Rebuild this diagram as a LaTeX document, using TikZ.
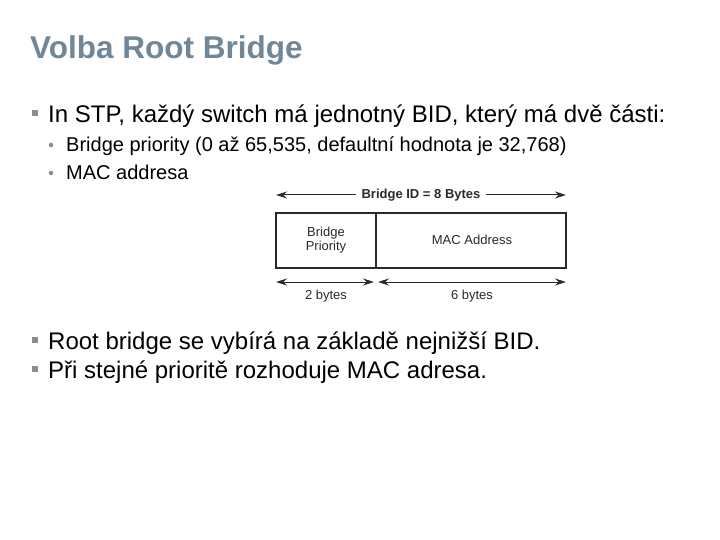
\documentclass[tikz,border=0pt]{standalone}
\usepackage{fontspec}
\setmainfont{Liberation Sans}
\usetikzlibrary{arrows.meta}
\definecolor{titlec}{HTML}{6F8798}
\definecolor{bulc}{HTML}{8C8C8C}
\definecolor{diag}{HTML}{2A2A2A}
\begin{document}
\begin{tikzpicture}[x=1pt,y=-1pt,
  txt/.style={anchor=base west,inner sep=0pt,text=black},
  dtxt/.style={inner sep=0pt,text=diag,font=\fontsize{13}{15}\selectfont,align=center},
  tip/.style={-{Stealth[length=11pt,width=7pt]}},
  dim/.style={{Stealth[length=11pt,width=7pt]}-{Stealth[length=11pt,width=7pt]},line width=1pt,draw=diag}]
\useasboundingbox[fill=white] (0,0) rectangle (720,540);
% title
\node[txt,text=titlec,font=\fontsize{31.5}{34}\selectfont\bfseries] (title) at (30,59) {Volba Root Bridge};
% bullets
\node[fill=bulc,minimum size=6.5pt,inner sep=0pt] (b1) at (35,113) {};
\node[txt,font=\fontsize{24}{26}\selectfont] (t1) at (48,123) {In STP, každý switch má jednotný BID, který má dvě části:};
\node[circle,fill=bulc,minimum size=4.5pt,inner sep=0pt] (s1) at (51,145) {};
\node[txt,font=\fontsize{20}{22}\selectfont] (t2) at (66,152) {Bridge priority (0 až 65,535, defaultní hodnota je 32,768)};
\node[circle,fill=bulc,minimum size=4.5pt,inner sep=0pt] (s2) at (51,173) {};
\node[txt,font=\fontsize{20}{22}\selectfont] (t3) at (66,180) {MAC addresa};
\node[fill=bulc,minimum size=6.5pt,inner sep=0pt] (b2) at (35,340) {};
\node[txt,font=\fontsize{24}{26}\selectfont] (t4) at (48,349) {Root bridge se vybírá na základě nejnižší BID.};
\node[fill=bulc,minimum size=6.5pt,inner sep=0pt] (b3) at (35,369) {};
\node[txt,font=\fontsize{24}{26}\selectfont] (t5) at (48,378) {Při stejné prioritě rozhoduje MAC adresa.};
% diagram
\draw[diag,line width=1.2pt] (276,213) rectangle (566,268);
\draw[diag,line width=1.2pt] (376,213) -- (376,268);
\node[dtxt,font=\fontsize{13}{14.5}\selectfont] (bp) at (326,240) {Bridge\\Priority};
\node[dtxt] (mac) at (472,240) {MAC Address};
\node[dtxt,font=\fontsize{13}{15}\selectfont\bfseries,fill=white,inner xsep=5pt] (bid) at (421,195) {Bridge ID = 8 Bytes};
\coordinate (tl) at (276,195);
\coordinate (tr) at (566,195);
\draw[diag,line width=1pt,tip] (bid.west) -- (tl);
\draw[diag,line width=1pt,tip] (bid.east) -- (tr);
\coordinate (bl) at (276,282);
\coordinate (bm1) at (374,282);
\coordinate (bm2) at (378,282);
\coordinate (br) at (566,282);
\draw[dim] (bl) -- (bm1);
\draw[dim] (bm2) -- (br);
\node[dtxt] (two) at (326,296) {2 bytes};
\node[dtxt] (six) at (472,296) {6 bytes};
\end{tikzpicture}
\end{document}
